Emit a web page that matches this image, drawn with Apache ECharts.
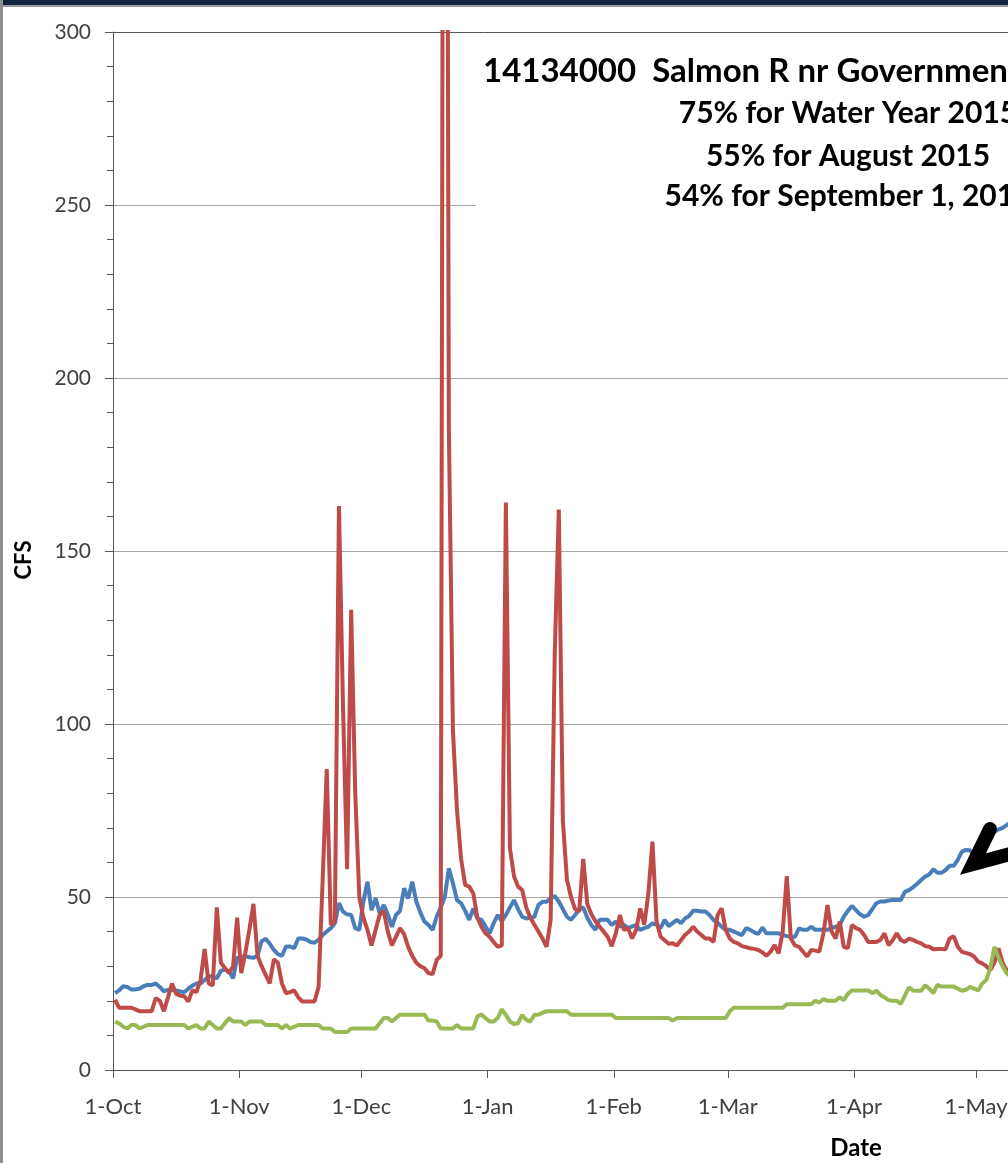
<!DOCTYPE html>
<html><head><meta charset="utf-8">
<script src="https://cdn.jsdelivr.net/npm/echarts@6/dist/echarts.min.js"></script>
<style>html,body{margin:0;padding:0;background:#fff;overflow:hidden;width:1008px;height:1163px}#c{width:1700px;height:1163px}</style>
</head><body><div id="c"></div>
<script>
// Daily values from 1-Oct-2014 (index 0)
const startYear = 2014, startMonth = 9, startDay = 1;
const monthNames = ['Jan','Feb','Mar','Apr','May','Jun','Jul','Aug','Sep','Oct','Nov','Dec'];
const yTicks = [0, 50, 100, 150, 200, 250, 300];

const blueSeries = [
22.2,23,24.2,24,23.3,23.3,23.5,24.2,24.6,24.6,
25,24,22.7,23.2,23.2,23,22.7,22.5,23.5,24.4,
25,25,26,27,27,26.5,28.7,29,28.5,26.5,
32.4,32.7,32.9,32.6,32.4,33,37.2,37.9,36.5,34.7,
33.5,33,35.7,35.7,35.2,38,38,37.7,37,36.8,
37.6,39,40,41,42.4,48.2,45.8,45,44.8,41,
40.5,48.7,54.4,46.2,49.6,45.3,47.7,45,41.4,44.8,
46,52.5,49.6,54.4,48.7,45.5,42.9,41.9,40.5,44.3,
47,50,58.3,54,49.1,48.2,46,43.4,46.7,43.8,
43.4,41.5,39.5,42.4,44.8,42.9,44.8,47,49.1,46.5,
44.3,43.8,44,44.3,47.7,48.6,48.6,49.6,50.3,48.7,
46.5,44.3,43.4,44.8,46.4,47,44,41.9,40.5,43.4,
43.4,43.4,41.9,42.9,41.4,42,41,41.5,41.9,40.5,
41,41.4,42.4,42,41,43.4,41.6,42.5,43.4,42.4,
43.8,44.5,46,46,45.8,45.8,44.8,43.4,42.5,41.4,
40.5,40.5,40,39.5,39,41,40.5,39.8,39.3,41.2,
39.5,39.5,39.5,39.5,39,38.7,38.5,38.5,40.9,40.5,
40.5,41.4,40.5,40.5,40.5,40.5,41,41.4,41.9,44.3,
46,47.4,46.2,45,44.3,44.8,46.5,48.2,48.7,48.7,
49,49.1,49.1,49.1,51.5,52,52.8,53.8,54.9,55.9,
56.5,58,57,57,57.8,59,59,60.7,63.1,63.6,
63.5,62.1,63,64,65.5,67,68.9,69.5,70,70.8,
71.5,72
];

const redSeries = [
20.3,18,18,18,18,17.5,17,17,17,17,
20.8,20,17,21,25,22,21.5,21.3,19.8,23,
22.5,26,35,25,24.4,47,31,29.5,28,30,
44,28,33.8,40.6,48,33,30,27.5,25,32,
31,25,22.2,22.5,23,21,19.8,19.8,19.8,19.8,
24,55,87,42,43,163,105,58,133,80,
50,44,40.5,36,40.5,44.8,46,40,36,38.5,
41,39.3,35.6,33,31,30,29.4,28,27.7,31.8,
33,650,185,98,75,61,53.5,53,51,44,
41.4,39.5,38.5,37,35.6,36,164,64,56,53,
52,47,44,42,40,38,35.6,43.4,120,162,
72,55,50,46.5,45.8,61,48,45,43,41.5,
40,38.5,35.8,39.5,44.8,40.5,41,38,40.5,46.7,
42,51,66,43,38.5,37.5,36.5,36.6,36,37.5,
39,40,41.4,40,39,38,38,37,44.8,46.7,
40.5,38,37,36.6,35.8,35.5,35.2,35,34.7,34,
33,34.2,36.1,33.7,40,56,38,36,35.6,34.2,
32.8,34.7,34.5,34.2,39.5,47.7,40,38,42.9,35.6,
35.2,41.9,41,40.5,39,37,37,37,37.6,39.5,
36.1,37.5,39.5,37.6,37,38,37.6,37,36.6,35.8,
35.6,34.9,35,35,34.9,38,38.7,35.6,34.2,33.8,
33.5,32.8,31.3,30.8,30,28.9,31,35.2,31,28.9,
27,26
];

const greenSeries = [
14,13.5,12.5,12,13,13,12,12.5,13,13,
13,13,13,13,13,13,13,13,12,12.5,
13,12,12,14,13,12,12,13.5,15,14,
14,14,13,14,14,14,14,13,13,13,
13,12,13,12,12.5,13,13,13,13,13,
13,12,12,12,11,11,11,11,12,12,
12,12,12,12,12,13.5,15,15,14,15,
16,16,16,16,16,16,16,14.3,14.3,14,
12,12,12,12,13,12,12,12,12,15.5,
16,15,14,14,15,17.5,16,14,13.3,13.5,
15.9,14.5,14,16,16,16.5,17,17,17,17,
17,17,16,16,16,16,16,16,16,16,
16,16,16,15,15,15,15,15,15,15,
15,15,15,15,15,15,15,14.3,15,15,
15,15,15,15,15,15,15,15,15,15,
15,17,18,18,18,18,18,18,18,18,
18,18,18,18,18,19,19,19,19,19,
19,19,20,19.5,20.5,20,20,20,21,20.2,
22,23,23,23,23,23,22.2,22.9,21.7,21,
20.2,20,20,19.1,21.5,23.9,23,22.9,22.9,24.5,
23.5,22.2,24.6,24.1,24.1,24.1,24.1,23.5,22.9,23.2,
24,23.5,23,25,26,29.5,35.6,32.5,30,28,
27,26
];

const titleLines = ['14134000  Salmon R nr Government Camp', '75% for Water Year 2015', '55% for August 2015', '54% for September 1, 2015'];

const DAY = 86400000;
function toPairs(arr){ return arr.map((v,i)=>[Date.UTC(startYear,startMonth,startDay+i,12), v]); }

const chart = echarts.init(document.getElementById('c'), null, {renderer:'canvas'});
const axisColor = '#595959';
const labelFont = {fontFamily:'Lato', color:'#404040'};
const gridColors = yTicks.map((t,i)=> i===yTicks.length-1 ? '#595959' : '#a6a6a6');

const option = {
  animation:false,
  useUTC:true,
  backgroundColor:'#ffffff',
  grid:{left:113, top:32, width:1486, height:1038, containLabel:false, outerBoundsMode:'none'},
  xAxis:{
    type:'time',
    min:Date.UTC(2014,9,1), max:Date.UTC(2015,9,1),
    minInterval:28*DAY, maxInterval:31*DAY,
    axisLine:{show:true, lineStyle:{color:axisColor, width:1}},
    axisTick:{show:true, length:8, lineStyle:{color:axisColor}},
    splitLine:{show:false},
    axisLabel:{show:true, showMinLabel:true, hideOverlap:false, margin:26, fontSize:22, ...labelFont,
      formatter:function(v){ const d=new Date(v); return d.getUTCDate()+'-'+monthNames[d.getUTCMonth()]; }},
    name:'Date', nameLocation:'middle', nameGap:66,
    nameTextStyle:{fontFamily:'Lato', fontWeight:'bold', fontSize:24, color:'#000'}
  },
  yAxis:{
    type:'value', min:yTicks[0], max:yTicks[yTicks.length-1], interval:50,
    axisLine:{show:true, lineStyle:{color:axisColor, width:1}},
    axisTick:{show:true, length:8, lineStyle:{color:axisColor}},
    minorTick:{show:true, splitNumber:5, length:6, lineStyle:{color:axisColor}},
    splitLine:{show:true, lineStyle:{color:gridColors, width:1}},
    axisLabel:{margin:22, fontSize:21, ...labelFont},
    name:'CFS', nameLocation:'middle', nameGap:78, nameRotate:90,
    nameTextStyle:{fontFamily:'Lato', fontWeight:'bold', fontSize:22, color:'#000', padding:[0,0,0,-18]}
  },
  series:[
    {name:'Median', type:'line', data:toPairs(blueSeries), showSymbol:false, lineStyle:{color:'#4A7EBB', width:4}, itemStyle:{color:'#4A7EBB'}, z:2},
    {name:'WY 2015', type:'line', data:toPairs(redSeries), showSymbol:false, lineStyle:{color:'#BE4B48', width:4}, itemStyle:{color:'#BE4B48'}, z:3},
    {name:'Minimum', type:'line', data:toPairs(greenSeries), showSymbol:false, lineStyle:{color:'#98B954', width:4}, itemStyle:{color:'#98B954'}, z:4}
  ],
  graphic:[
    {type:'rect', z:50, shape:{x:476, y:44, width:1000, height:178}, style:{fill:'#ffffff'}},
    {type:'text', z:51, x:483, y:71, style:{text:titleLines[0], font:'bold 33px Lato', fill:'#000', textAlign:'left', textVerticalAlign:'middle'}},
    {type:'text', z:51, x:848, y:113, style:{text:titleLines[1], font:'bold 30px Lato', fill:'#000', textAlign:'center', textVerticalAlign:'middle'}},
    {type:'text', z:51, x:848, y:156, style:{text:titleLines[2], font:'bold 30px Lato', fill:'#000', textAlign:'center', textVerticalAlign:'middle'}},
    {type:'text', z:51, x:848, y:196, style:{text:titleLines[3], font:'bold 30px Lato', fill:'#000', textAlign:'center', textVerticalAlign:'middle'}},
    {type:'polyline', z:60, shape:{points:[[990,829],[973,864],[1040,846]]}, style:{stroke:'#000', lineWidth:14, fill:null, lineCap:'round', lineJoin:'miter', miterLimit:10}},
    {type:'rect', z:70, shape:{x:0, y:0, width:1700, height:5}, style:{fill:'#13243f'}},
    {type:'rect', z:70, shape:{x:0, y:5, width:1700, height:2}, style:{fill:'#9a9a9a'}},
    {type:'rect', z:70, shape:{x:0, y:0, width:3, height:1163}, style:{fill:'#8f8f8f'}}
  ]
};
chart.setOption(option);
</script>
</body></html>
